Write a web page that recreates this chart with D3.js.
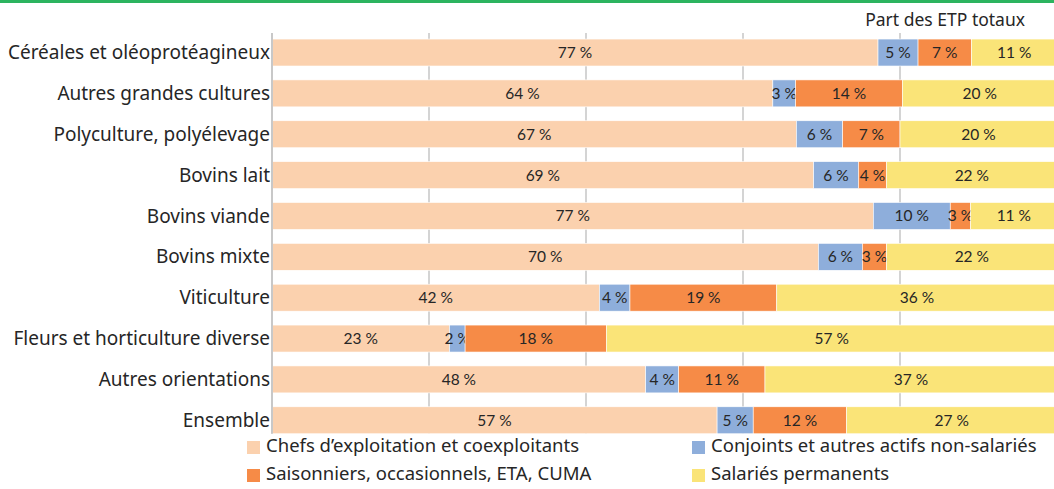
<!DOCTYPE html>
<html>
<head>
<meta charset="utf-8">
<script src="https://cdn.jsdelivr.net/npm/d3@7"></script>
<style>
  body { margin: 0; background: #fff; }
  svg { display: block; }
</style>
</head>
<body>
<div id="chart"></div>
<script>
// Categories (top to bottom)
var categories = [
  "Céréales et oléoprotéagineux",
  "Autres grandes cultures",
  "Polyculture, polyélevage",
  "Bovins lait",
  "Bovins viande",
  "Bovins mixte",
  "Viticulture",
  "Fleurs et horticulture diverse",
  "Autres orientations",
  "Ensemble"
];

// Series names (legend order)
var seriesNames = [
  "Chefs d\u2019exploitation et coexploitants",
  "Conjoints et autres actifs non-salariés",
  "Saisonniers, occasionnels, ETA, CUMA",
  "Salariés permanents"
];

// Share of total FTE, in %, one value per category
var chefs       = [77.2, 63.8, 66.8, 69.0, 76.6, 69.6, 41.7, 22.6, 47.6, 56.7];
var conjoints   = [ 5.1,  2.9,  5.9,  5.7,  9.8,  5.6,  3.9,  2.0,  4.2,  4.6];
var saisonniers = [ 6.8, 13.6,  7.3,  3.6,  2.6,  3.1, 18.7, 18.0, 11.0, 11.9];
var salaries    = [11.0, 19.7, 20.0, 21.7, 11.0, 21.7, 35.7, 57.4, 37.2, 26.8];

var gridTicks = [0, 20, 40, 60, 80];

var colors = ["#fbd1ae", "#8eaedb", "#f68b47", "#fae478"];

var width = 1054, height = 489;

var svg = d3.select("#chart").append("svg")
    .attr("width", width)
    .attr("height", height);

// green rule at the very top
svg.append("rect")
    .attr("x", 0).attr("y", 0)
    .attr("width", width).attr("height", 3)
    .style("fill", "#2cb45f");

var x = d3.scaleLinear()
    .domain([0, 100])
    .range([272, 1057]);

var y = d3.scaleBand()
    .domain(categories)
    .range([32.1, 440.7])
    .paddingInner(0.34)
    .paddingOuter(0.17);

var gridBottom = y(categories[categories.length - 1]) + y.bandwidth();

// gridlines
svg.append("g")
  .selectAll("line")
  .data(gridTicks)
  .enter().append("line")
    .attr("x1", function(d) { return x(d); })
    .attr("x2", function(d) { return x(d); })
    .attr("y1", 33)
    .attr("y2", gridBottom)
    .style("stroke", "#d4d4d4")
    .style("stroke-width", "2px");

// build stacked data from the series arrays
var table = categories.map(function(c, i) {
  return {
    cat: c,
    s0: chefs[i],
    s1: conjoints[i],
    s2: saisonniers[i],
    s3: salaries[i]
  };
});
var keys = ["s0", "s1", "s2", "s3"];
var stacked = d3.stack().keys(keys)(table);

var layers = svg.append("g").selectAll("g")
  .data(stacked)
  .enter().append("g")
    .style("fill", function(d, i) { return colors[i]; });

layers.selectAll("rect")
  .data(function(d) { return d; })
  .enter().append("rect")
    .attr("x", function(d) { return x(d[0]); })
    .attr("y", function(d) { return y(d.data.cat); })
    .attr("width", function(d) { return x(d[1]) - x(d[0]); })
    .attr("height", y.bandwidth())
    .style("stroke", "#fff")
    .style("stroke-width", "0.6px");

// value labels
layers.selectAll("text")
  .data(function(d) { return d; })
  .enter().append("text")
    .attr("x", function(d) { return (x(d[0]) + x(Math.min(d[1], 100))) / 2; })
    .attr("y", function(d) { return y(d.data.cat) + y.bandwidth() / 2; })
    .attr("dy", "0.35em")
    .style("text-anchor", "middle")
    .style("font-family", "Lato, 'Noto Sans', sans-serif")
    .style("font-size", "15.5px")
    .style("fill", "#262626")
    .text(function(d) { return Math.round(d[1] - d[0]) + " %"; });

// vertical axis line
svg.append("line")
    .attr("x1", x(0)).attr("x2", x(0))
    .attr("y1", 33).attr("y2", gridBottom)
    .style("stroke", "#c8c8c8")
    .style("stroke-width", "2px");

// category labels
svg.append("g").selectAll("text")
  .data(categories)
  .enter().append("text")
    .attr("x", 270)
    .attr("y", function(d) { return y(d) + y.bandwidth() / 2; })
    .attr("dy", "0.35em")
    .style("text-anchor", "end")
    .style("font-family", "'Noto Sans', sans-serif")
    .style("font-size", "19px")
    .style("fill", "#262626")
    .text(function(d) { return d; });

// title on the top right
svg.append("text")
    .attr("x", 1025)
    .attr("y", 20)
    .attr("dy", "0.35em")
    .style("text-anchor", "end")
    .style("font-family", "'Noto Sans', sans-serif")
    .style("font-size", "17.5px")
    .style("fill", "#262626")
    .text("Part des ETP totaux");

// legend
var legendPos = [[247, 446], [692, 446], [247, 474], [692, 474]];
var legend = svg.append("g").selectAll("g")
  .data(seriesNames)
  .enter().append("g")
    .attr("transform", function(d, i) {
      return "translate(" + legendPos[i][0] + "," + legendPos[i][1] + ")";
    });

legend.append("rect")
    .attr("x", 0).attr("y", -5)
    .attr("width", 13).attr("height", 13)
    .style("fill", function(d, i) { return colors[i]; });

legend.append("text")
    .attr("x", 19)
    .attr("y", 0)
    .attr("dy", "0.35em")
    .style("font-family", "'Noto Sans', sans-serif")
    .style("font-size", "18.5px")
    .style("fill", "#262626")
    .text(function(d) { return d; });
</script>
</body>
</html>
